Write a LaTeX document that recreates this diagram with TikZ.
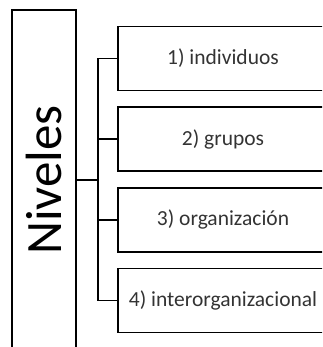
\documentclass[tikz,border=0pt]{standalone}
\usepackage{fontspec}
\setmainfont{Carlito}
\usetikzlibrary{positioning}

\begin{document}
\begin{tikzpicture}[
  x=1pt, y=-1pt,
  level/.style={draw, rectangle, line width=1.7pt, minimum width=210pt, minimum height=64pt,
    text=black!80, font=\fontsize{21.5}{25}\selectfont},
  mainbox/.style={draw, rectangle, line width=1.7pt, minimum width=64pt, minimum height=340pt},
  conn/.style={line width=1.7pt},
]
\useasboundingbox (0,0) rectangle (322,347);
\clip (0,0) rectangle (322,347);

\node (niveles) [mainbox, label={[rotate=90, font=\fontsize{51}{56}\selectfont]center:Niveles}] at (44,180) {};

\foreach [count=\i] \txt in {1) individuos, 2) grupos, 3) organización, 4) interorganizacional} {
  \node (lvl\i) [level] at (223, 58.5+80.7*\i-80.7) {\txt};
}

\draw[conn] (niveles.east) -- ++(21,0) coordinate (trunk);
\foreach \i in {1,...,4} {
  \draw[conn] (trunk) |- (lvl\i.west);
}

\end{tikzpicture}
\end{document}
